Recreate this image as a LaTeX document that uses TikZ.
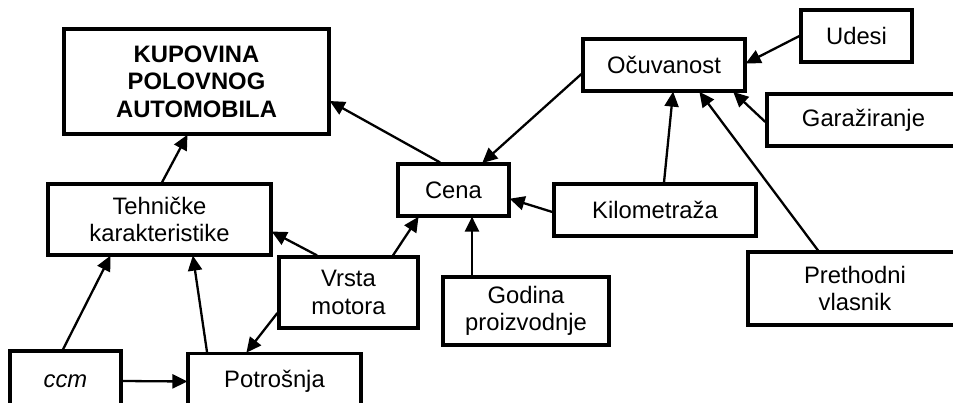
\documentclass[tikz,border=0pt]{standalone}
\usepackage{fontspec}
\setmainfont{Liberation Sans}
\usetikzlibrary{arrows.meta}
\begin{document}
\begin{tikzpicture}[x=1pt,y=-1pt,
  box/.style={draw, line width=3.2pt, rectangle, inner sep=0pt, align=center,
    font=\fontsize{23.8}{27.5}\selectfont},
  arr/.style={line width=2.3pt, -{Triangle[length=15pt,width=14pt]}, shorten >=-1pt}]
\useasboundingbox (0,0) rectangle (953,403);
\clip (0,0) rectangle (953,403);

% factors
\node[box, minimum width=265pt, minimum height=105pt, font=\fontsize{23.8}{27.5}\selectfont\bfseries]
  (kup) at (196.5,81.5) {KUPOVINA\\POLOVNOG\\AUTOMOBILA};
\node[box, minimum width=223pt, minimum height=71pt] (teh) at (159.5,219.5) {Tehničke\\karakteristike};
\node[box, minimum width=111pt, minimum height=52pt] (cena) at (453.5,190) {Cena};
\node[box, minimum width=162pt, minimum height=52pt] (ocu) at (664,65) {Očuvanost};
\node[box, minimum width=111pt, minimum height=52pt] (udesi) at (856.5,36) {Udesi};
\node[box, minimum width=193pt, minimum height=52pt] (gar) at (863.5,120) {Garažiranje};
\node[box, minimum width=202pt, minimum height=52pt] (kilo) at (655,210) {Kilometraža};
\node[box, minimum width=214pt, minimum height=73pt] (pret) at (855,288.5) {Prethodni\\vlasnik};
\node[box, minimum width=166pt, minimum height=68pt] (god) at (526,311) {Godina\\proizvodnje};
\node[box, minimum width=139pt, minimum height=71pt] (vrsta) at (348.5,292.5) {Vrsta\\motora};
\node[box, minimum width=111pt, minimum height=60pt] (ccm) at (65.5,381) {\itshape ccm};
\node[box, minimum width=173pt, minimum height=56pt] (potr) at (274.5,381.5) {Potrošnja};

% influences
\draw[arr] ([xshift=2.5pt]teh.north) -- ([xshift=-9.5pt]kup.south);
\draw[arr] ([xshift=-13.5pt]cena.north) -- ([yshift=-20pt]kup.east);
\draw[arr] ([yshift=-9pt]ocu.west) -- ([xshift=29.5pt]cena.north);
\draw[arr] (udesi.west) -- ([yshift=2pt]ocu.east);
\draw[arr] ([yshift=-2pt]gar.west) -- ([xshift=70pt]ocu.south);
\draw[arr] ([xshift=9pt]kilo.north) -- ([xshift=9pt]ocu.south);
\draw[arr] ([xshift=-37pt]pret.north) -- ([xshift=36pt]ocu.south);
\draw[arr] ([yshift=-2pt]kilo.west) -- ([yshift=-9pt]cena.east);
\draw[arr] ([xshift=-54pt]god.north) -- ([xshift=18.5pt]cena.south);
\draw[arr] ([xshift=44.5pt]vrsta.north) -- ([xshift=-35.5pt]cena.south);
\draw[arr] ([xshift=-31.5pt]vrsta.north) -- ([yshift=-12.5pt]teh.east);
\draw[arr] ([yshift=-20.5pt]vrsta.west) -- ([xshift=-27.5pt]potr.north);
\draw[arr] ([xshift=-2.5pt]ccm.north) -- ([xshift=-49.5pt]teh.south);
\draw[arr] ([xshift=-67.5pt]potr.north) -- ([xshift=33.5pt]teh.south);
\draw[arr] (ccm.east) -- (potr.west);
\end{tikzpicture}
\end{document}
